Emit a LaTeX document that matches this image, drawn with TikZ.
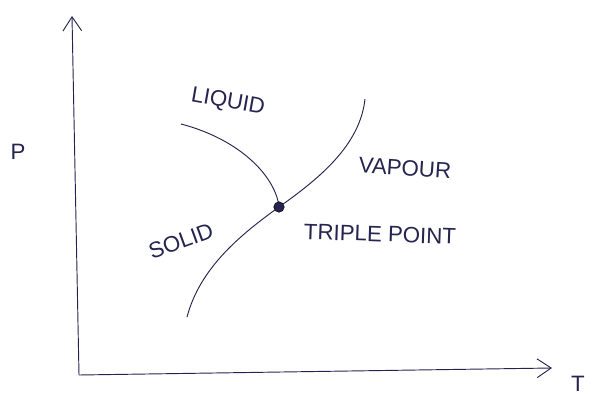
\documentclass[tikz,border=0pt]{standalone}
\usepackage{fontspec}
\setmainfont{Liberation Sans}
\usepackage{xcolor}
\usetikzlibrary{arrows.meta, positioning}

\definecolor{pen}{RGB}{38,36,78}

\begin{document}
\begin{tikzpicture}[
    x=0.03cm, y=-0.03cm,
    axis/.style={-{Straight Barb[length=12pt, width=16pt]}, pen, thick},
    boundary/.style={pen, thick},
    phase/.style={pen, font=\fontsize{19}{19}\selectfont, inner sep=1pt},
    triple/.style={circle, fill=pen, draw=black, inner sep=0pt, minimum size=9pt}
]

    % Area of the picture (pixel units of the sketch)
    \useasboundingbox (0,0) rectangle (593,396);

    % Axis end points
    \coordinate (origin) at (79,375);
    \coordinate (ptop) at (72,16);
    \coordinate (tend) at (552,368);

    % 1. Axes
    \draw[axis] (origin) -- (ptop);
    \draw[axis] (origin) -- (tend);
    \node[phase] (plabel) at (18,152) {P};
    \node[phase] (tlabel) at (578,384) {T};

    % 2. Phase boundaries meeting in the triple point
    \coordinate (tp) at (279,207);
    \coordinate (fusstart) at (181,124);
    \coordinate (subst) at (187,317);
    \coordinate (vapend) at (365,99);

    \draw[boundary] (fusstart) .. controls (242,140) and (276,178) .. (tp);
    \draw[boundary] (subst) .. controls (200,268) and (240,235) .. (tp);
    \draw[boundary] (tp) .. controls (320,178) and (360,145) .. (vapend);

    % 3. Labels of the phases
    \node[phase, rotate=-10] (liquid) at (228,102) {LIQUID};
    \node[phase, rotate=-4] (vapour) at (405,168) {VAPOUR};
    \node[phase, rotate=20] (solid) at (181,241) {SOLID};
    \node[phase, rotate=-2] (tplabel) at (380,234) {TRIPLE POINT};

    % 4. Triple point on top of the curves
    \node[triple] (tpdot) at (tp) {};

\end{tikzpicture}
\end{document}
